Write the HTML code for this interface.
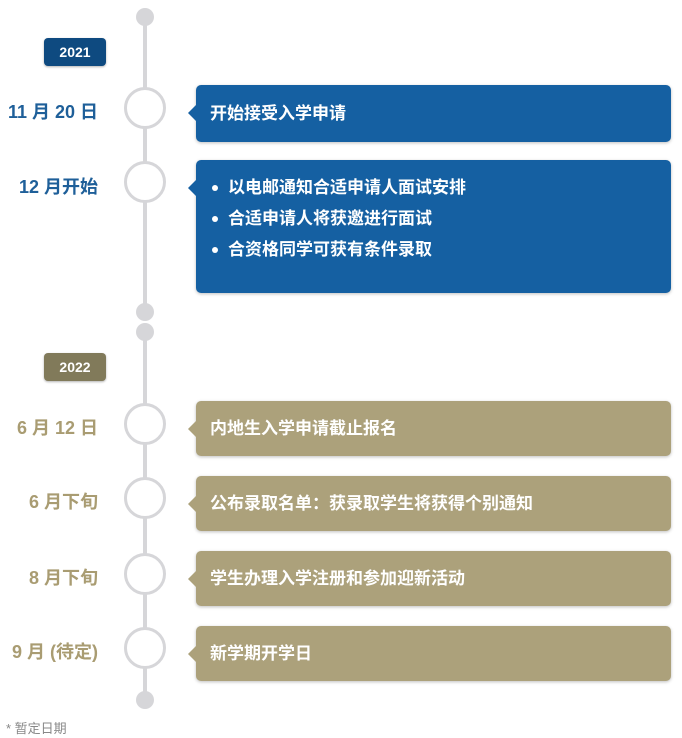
<!DOCTYPE html>
<html><head><meta charset="utf-8"><style>
*{margin:0;padding:0;box-sizing:border-box}
body{width:682px;height:738px;background:#fff;position:relative;overflow:hidden;font-family:"Liberation Sans","Noto Sans CJK SC",sans-serif;font-weight:bold}
.a{position:absolute}
.line{position:absolute;left:143px;width:4px;background:#d6d6d9}
.dot{position:absolute;left:136px;width:18px;height:18px;border-radius:50%;background:#d6d6d9}
.c{position:absolute;left:124px;width:42px;height:42px;border-radius:50%;border:3px solid #d6d6d9;background:#fff}
.yr{position:absolute;left:44px;width:62px;height:28px;border-radius:4px;color:#fff;font-size:14px;text-align:center;line-height:28px;box-shadow:0 1px 2px rgba(0,0,0,.3)}
.d{position:absolute;right:584px;font-size:18px;white-space:nowrap}
.bx{position:absolute;left:196px;width:475px;border-radius:5px;color:#fff;font-size:17px;padding-left:14px;box-shadow:0 1px 3px rgba(0,0,0,.25)}
.bx:before{content:"";position:absolute;left:-8px;top:20px;border-right:8px solid;border-right-color:inherit;border-top:8px solid transparent;border-bottom:8px solid transparent}
.b{background:#1560a2;border-color:#1560a2}
.t{background:#aca17b;border-color:#aca17b}
.bx ul{list-style:none}
.bx li{position:relative;padding-left:18px;line-height:31px}
.bx li:before{content:"";position:absolute;left:2px;top:13px;width:6px;height:6px;border-radius:50%;background:#fff}
</style></head><body>
<div class="line" style="top:17px;height:295px"></div>
<div class="line" style="top:332px;height:368px"></div>
<div class="dot" style="top:8px"></div>
<div class="dot" style="top:303px"></div>
<div class="dot" style="top:323px"></div>
<div class="dot" style="top:691px"></div>

<div class="yr" style="top:38px;background:#0e4a80">2021</div>
<div class="yr" style="top:353px;background:#817a5a">2022</div>

<div class="c" style="top:87px"></div>
<div class="c" style="top:161px"></div>
<div class="c" style="top:403px"></div>
<div class="c" style="top:477px"></div>
<div class="c" style="top:553px"></div>
<div class="c" style="top:627px"></div>

<div class="d" style="top:98px;color:#1e5f99">11 月 20 日</div>
<div class="d" style="top:173px;color:#1e5f99">12 月开始</div>
<div class="d" style="top:414px;color:#a99c72">6 月 12 日</div>
<div class="d" style="top:488px;color:#a99c72">6 月下旬</div>
<div class="d" style="top:564px;color:#a99c72">8 月下旬</div>
<div class="d" style="top:638px;color:#a99c72">9 月 (待定)</div>

<div class="bx b" style="top:85px;height:57px;line-height:57px">开始接受入学申请</div>
<div class="bx b" style="top:160px;height:133px;padding-top:12px"><ul><li>以电邮通知合适申请人面试安排</li><li>合适申请人将获邀进行面试</li><li>合资格同学可获有条件录取</li></ul></div>
<div class="bx t" style="top:401px;height:55px;line-height:55px">内地生入学申请截止报名</div>
<div class="bx t" style="top:476px;height:55px;line-height:55px">公布录取名单：获录取学生将获得个别通知</div>
<div class="bx t" style="top:551px;height:55px;line-height:55px">学生办理入学注册和参加迎新活动</div>
<div class="bx t" style="top:626px;height:55px;line-height:55px">新学期开学日</div>

<div class="a" style="left:6px;top:718px;font-size:13px;font-weight:normal;color:#888">* 暂定日期</div>
</body></html>
